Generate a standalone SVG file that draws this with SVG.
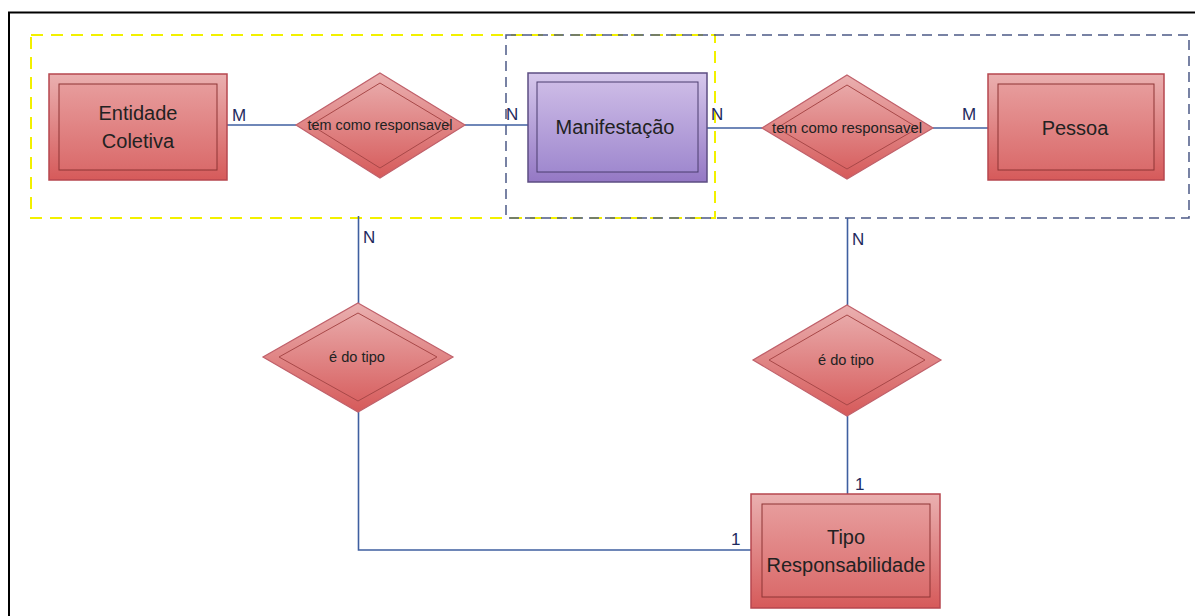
<svg xmlns="http://www.w3.org/2000/svg" width="1195" height="616" viewBox="0 0 1195 616">
<defs>
<linearGradient id="gRed" x1="0" y1="0" x2="0" y2="1">
<stop offset="0" stop-color="#eab0b0"/>
<stop offset="1" stop-color="#d65a5a"/>
</linearGradient>
<linearGradient id="gRedIn" x1="0" y1="0" x2="0" y2="1">
<stop offset="0" stop-color="#e79c9c"/>
<stop offset="1" stop-color="#da6b6b"/>
</linearGradient>
<linearGradient id="gPur" x1="0" y1="0" x2="0" y2="1">
<stop offset="0" stop-color="#d6c8ec"/>
<stop offset="1" stop-color="#9478c4"/>
</linearGradient>
<linearGradient id="gPurIn" x1="0" y1="0" x2="0" y2="1">
<stop offset="0" stop-color="#cdbbe6"/>
<stop offset="1" stop-color="#a089cf"/>
</linearGradient>
</defs>
<style>
.ent-o{fill:url(#gRed);stroke:#b6474f;stroke-width:1.5}
.ent-i{fill:url(#gRedIn);stroke:#8e3434;stroke-width:1}
.pur-o{fill:url(#gPur);stroke:#5c4d82;stroke-width:1.5}
.pur-i{fill:url(#gPurIn);stroke:#4a3d6e;stroke-width:1}
.rel-o{fill:url(#gRed);stroke:#c0606a;stroke-width:1.2}
.rel-i{fill:none;stroke:#a84848;stroke-width:1}
.t{font-family:"Liberation Sans",Arial,sans-serif;fill:#222;text-anchor:middle}
.big{font-size:20px}
.small{font-size:14px}
.card{font-family:"Liberation Sans",Arial,sans-serif;font-size:17px;fill:#1e2a5e}
.conn{stroke:#3f5fa0;stroke-width:1.6;fill:none}
</style>
<rect x="0" y="0" width="1195" height="616" fill="#ffffff"/>
<path d="M9 640 V12.5 H1195" fill="none" stroke="#000" stroke-width="2"/>

<g id="groups">
<rect x="31" y="35" width="684" height="183" fill="none" stroke="#f2f000" stroke-width="2" stroke-dasharray="12,8"/>
<rect x="506" y="35" width="683" height="183" fill="none" stroke="#4c5a86" stroke-width="1.5" stroke-dasharray="10,6"/>
</g>

<g id="connectors">
<line class="conn" x1="227" y1="125" x2="296" y2="125"/>
<line class="conn" x1="465" y1="125" x2="528" y2="125"/>
<line class="conn" x1="707" y1="128" x2="762" y2="128"/>
<line class="conn" x1="933" y1="128" x2="988" y2="128"/>
<line class="conn" x1="358.5" y1="216" x2="358.5" y2="303"/>
<polyline class="conn" points="358.5,412 358.5,550 751,550"/>
<line class="conn" x1="847.5" y1="218" x2="847.5" y2="305"/>
<line class="conn" x1="847.5" y1="416" x2="847.5" y2="494"/>
<text class="card" x="232" y="121">M</text>
<text class="card" x="506" y="120">N</text>
<text class="card" x="711" y="120">N</text>
<text class="card" x="962" y="120">M</text>
<text class="card" x="363" y="243">N</text>
<text class="card" x="852" y="245">N</text>
<text class="card" x="731" y="545" fill="#111">1</text>
<text class="card" x="855" y="490" fill="#111">1</text>
</g>

<g id="entidade-coletiva">
<rect class="ent-o" x="49" y="74" width="178" height="106"/>
<rect class="ent-i" x="59" y="84" width="158" height="86"/>
<text class="t big" x="138" y="120">Entidade</text>
<text class="t big" x="138" y="148">Coletiva</text>
</g>

<g id="rel-responsavel-1">
<polygon class="rel-o" points="380,73 465,125 380,178 296,125"/>
<polygon class="rel-i" points="380,83 450,125 380,168 311,125"/>
<text class="t small" x="380" y="130" textLength="145" lengthAdjust="spacingAndGlyphs">tem como responsavel</text>
</g>

<g id="manifestacao">
<rect class="pur-o" x="528" y="73" width="179" height="109"/>
<rect class="pur-i" x="537" y="82" width="161" height="90"/>
<text class="t big" x="615" y="134">Manifestação</text>
</g>

<g id="rel-responsavel-2">
<polygon class="rel-o" points="847,75 933,128 847,179 762,128"/>
<polygon class="rel-i" points="847,85 918,128 847,169 777,128"/>
<text class="t small" x="847" y="133" textLength="150" lengthAdjust="spacingAndGlyphs">tem como responsavel</text>
</g>

<g id="pessoa">
<rect class="ent-o" x="988" y="74" width="176" height="106"/>
<rect class="ent-i" x="998" y="84" width="156" height="86"/>
<text class="t big" x="1075" y="135">Pessoa</text>
</g>

<g id="rel-tipo-1">
<polygon class="rel-o" points="358,303 453,357 358,412 263,357"/>
<polygon class="rel-i" points="358,313 437,357 358,401 279,357"/>
<text class="t small" x="357" y="362" textLength="56" lengthAdjust="spacingAndGlyphs">é do tipo</text>
</g>

<g id="rel-tipo-2">
<polygon class="rel-o" points="847,305 941,360 847,416 753,360"/>
<polygon class="rel-i" points="847,315 925,360 847,405 769,360"/>
<text class="t small" x="846" y="365" textLength="56" lengthAdjust="spacingAndGlyphs">é do tipo</text>
</g>

<g id="tipo-responsabilidade">
<rect class="ent-o" x="751" y="494" width="189" height="114"/>
<rect class="ent-i" x="762" y="504" width="168" height="93"/>
<text class="t big" x="846" y="544">Tipo</text>
<text class="t big" x="846" y="572">Responsabilidade</text>
</g>
</svg>
